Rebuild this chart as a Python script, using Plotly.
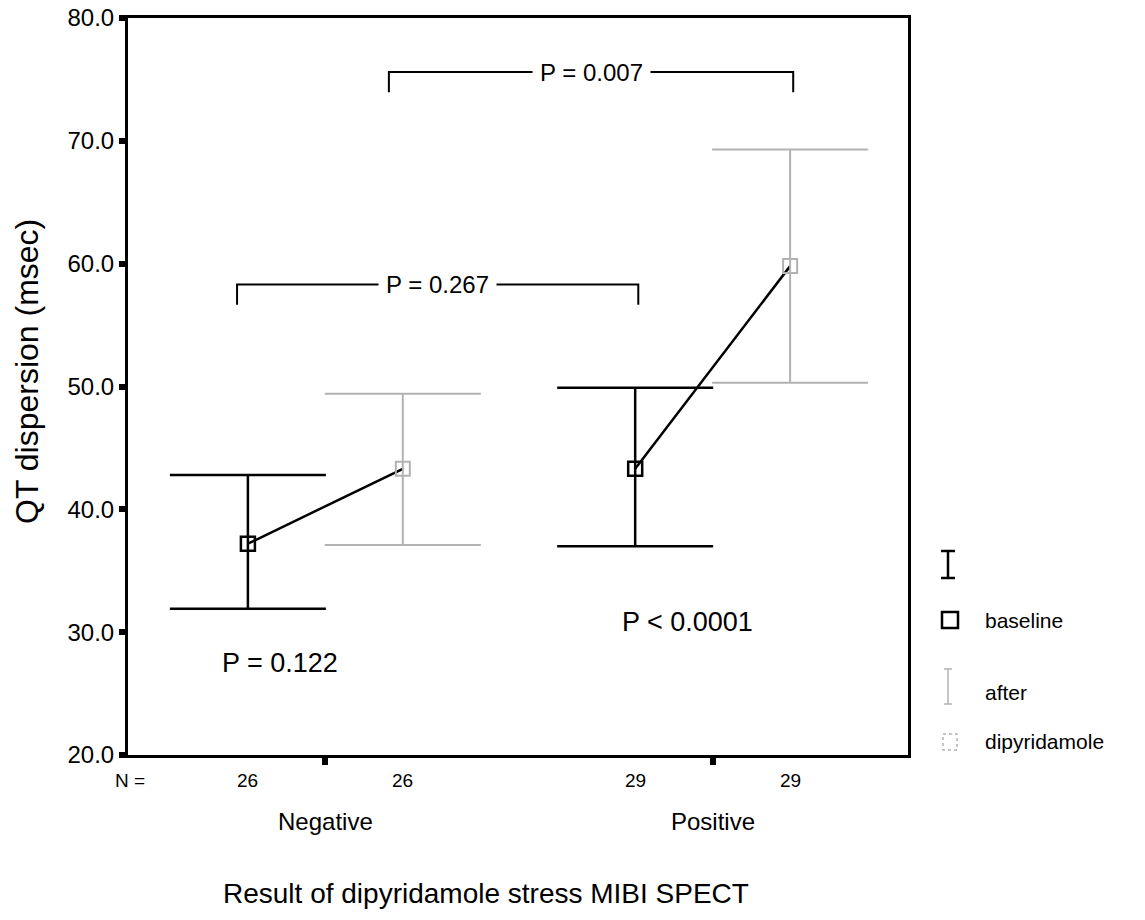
import plotly.graph_objects as go

# ---------------- data ----------------
groups = ["Negative", "Positive"]
n_baseline = [26, 29]
n_after = [26, 29]
baseline_mean = [37.2, 43.3]
baseline_low = [31.9, 37.0]
baseline_high = [42.8, 49.9]
after_mean = [43.3, 59.8]
after_low = [37.1, 50.3]
after_high = [49.4, 69.3]
y_ticks = [20, 30, 40, 50, 60, 70, 80]
within_p = ["P = 0.122", "P < 0.0001"]
within_p_y = [27.5, 30.8]
between_p = ["P = 0.267", "P = 0.007"]
between_p_y = [58.3, 75.6]
legend_labels = ["baseline", "after", "dipyridamole"]

# ---------------- layout helpers ----------------
FONT = "Liberation Sans, Arial, sans-serif"
W, H = 1145, 920
L, R, T, B = 128, 908, 18, 755
group_center = [1.5, 4.0]
bx = [c - 0.5 for c in group_center]
ax = [c + 0.5 for c in group_center]
GRAY = "#b2b2b2"


def px(x):
    return (x - L) / (R - L)


def py(y):
    return (B - y) / (B - T)


fig = go.Figure()

# connecting lines baseline -> after
for i in range(len(groups)):
    fig.add_trace(go.Scatter(
        x=[bx[i], ax[i]], y=[baseline_mean[i], after_mean[i]],
        mode="lines", line=dict(color="black", width=2.5),
        showlegend=False, hoverinfo="skip"))

# after dipyridamole (gray)
fig.add_trace(go.Scatter(
    x=ax, y=after_mean, mode="markers",
    marker=dict(symbol="square-open", size=14, color=GRAY, line=dict(width=2, color=GRAY)),
    error_y=dict(type="data", symmetric=False,
                 array=[h - m for h, m in zip(after_high, after_mean)],
                 arrayminus=[m - l for l, m in zip(after_low, after_mean)],
                 color=GRAY, thickness=2, width=78),
    showlegend=False))

# baseline (black)
fig.add_trace(go.Scatter(
    x=bx, y=baseline_mean, mode="markers",
    marker=dict(symbol="square-open", size=14, color="black", line=dict(width=2.5, color="black")),
    error_y=dict(type="data", symmetric=False,
                 array=[h - m for h, m in zip(baseline_high, baseline_mean)],
                 arrayminus=[m - l for l, m in zip(baseline_low, baseline_mean)],
                 color="black", thickness=2.5, width=78),
    showlegend=False))

annotations = []
shapes = []


def txt(x, y, text, size, xref="paper", yref="paper", xanchor="center", **kw):
    d = dict(x=x, y=y, xref=xref, yref=yref, text=text, showarrow=False,
             xanchor=xanchor, yanchor="middle",
             font=dict(family=FONT, size=size, color="black"))
    d.update(kw)
    annotations.append(d)


# between-group brackets
bracket_ends = [(bx[0] - 0.07, bx[1] + 0.02), (ax[0] - 0.09, ax[1] + 0.02)]
for (x0, x1), yv, t in zip(bracket_ends, between_p_y, between_p):
    drop = 1.65
    fig.add_trace(go.Scatter(
        x=[x0, x0, x1, x1], y=[yv - drop, yv, yv, yv - drop],
        mode="lines", line=dict(color="black", width=2),
        showlegend=False, hoverinfo="skip"))
    txt((x0 + x1) / 2, yv, t, 24, xref="x", yref="y", bgcolor="white", borderpad=7)

# within-group p values
wp_x = [1.21, 3.84]
for xv, yv, t in zip(wp_x, within_p_y, within_p):
    txt(xv, yv, t, 27, xref="x", yref="y")

# N labels
txt(px(130), py(780), "N =", 19)
for xs, ns in ((bx, n_baseline), (ax, n_after)):
    for xv, n in zip(xs, ns):
        txt(xv, py(780), str(n), 19, xref="x")
for xv, g in zip(group_center, groups):
    txt(xv, py(822), g, 24, xref="x")

# axis titles
txt(px(486), py(893), "Result of dipyridamole stress MIBI SPECT", 28)
txt(px(27), py(371), "QT dispersion (msec)", 32, textangle=-90)


# custom legend
def seg(x0, y0, x1, y1, color, width, dash="solid"):
    shapes.append(dict(type="line", xref="paper", yref="paper",
                       x0=px(x0), y0=py(y0), x1=px(x1), y1=py(y1),
                       line=dict(color=color, width=width, dash=dash)))


seg(948, 551, 948, 578, "black", 2.5)
seg(941, 551, 955, 551, "black", 2.5)
seg(941, 578, 955, 578, "black", 2.5)
shapes.append(dict(type="rect", xref="paper", yref="paper", x0=px(942), y0=py(612),
                   x1=px(958), y1=py(628), line=dict(color="black", width=2.5)))
seg(948, 669, 948, 704, GRAY, 1.5)
seg(944, 669, 952, 669, GRAY, 1.5)
seg(944, 704, 952, 704, GRAY, 1.5)
shapes.append(dict(type="rect", xref="paper", yref="paper", x0=px(943), y0=py(734),
                   x1=px(957), y1=py(750), line=dict(color=GRAY, width=1.5, dash="dot")))
for lab, yy in zip(legend_labels, [620, 692, 741]):
    txt(px(983), py(yy), lab, 21, xanchor="left")

fig.update_layout(
    width=W, height=H,
    margin=dict(l=L, r=W - R, t=T, b=H - B, autoexpand=False),
    paper_bgcolor="white", plot_bgcolor="white",
    showlegend=False,
    annotations=annotations, shapes=shapes,
    font=dict(family=FONT, color="black"),
)
fig.update_xaxes(range=[0.226, 5.261], showgrid=False, zeroline=False,
                 showline=True, linecolor="black", linewidth=3, mirror=True,
                 tickmode="array", tickvals=group_center, ticktext=["", ""],
                 ticks="outside", ticklen=7, tickwidth=6, tickcolor="black")
fig.update_yaxes(range=[20, 80], showgrid=False, zeroline=False,
                 showline=True, linecolor="black", linewidth=3, mirror=True,
                 tickmode="array", tickvals=y_ticks, ticktext=[f"{v:.1f}" for v in y_ticks],
                 ticks="outside", ticklen=6, tickwidth=6, tickcolor="black",
                 tickfont=dict(family=FONT, size=24, color="black"))

fig.write_html("out.html")
